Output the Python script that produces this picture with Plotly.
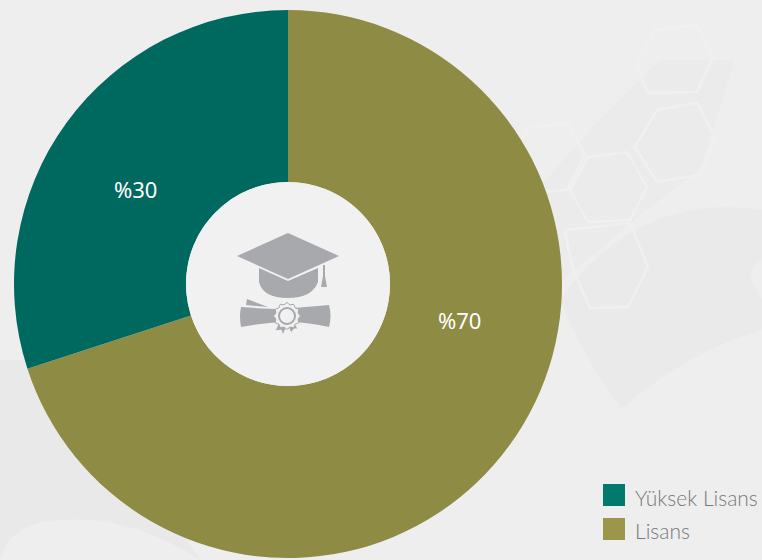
import math
import plotly.graph_objects as go

W, H = 762, 560
categories = ["Lisans", "Yüksek Lisans"]
values = [70, 30]
labels = ["%70", "%30"]
colors = ["#8e8b44", "#00695f"]
legend_colors = ["#9b9649", "#007a6c"]

def X(p): return p / W
def Y(p): return 1 - p / H

def svg(*segs, close=True):
    out = []
    for s in segs:
        nums = s[1:]
        pairs = [f"{X(nums[i]):.5f},{Y(nums[i+1]):.5f}" for i in range(0, len(nums), 2)]
        out.append(s[0] + " ".join(pairs))
    return " ".join(out) + (" Z" if close else "")

def pts(points, close=True):
    return svg(("M", *points[0]), *[("L", *p) for p in points[1:]], close=close)

cx, cy, R, r = 288, 284, 274, 102
fig = go.Figure(go.Pie(
    labels=categories, values=values, sort=False, direction="clockwise", rotation=0,
    hole=r / R, marker=dict(colors=colors, line=dict(width=0)),
    textinfo="none", hoverinfo="label+percent", showlegend=False,
    domain=dict(x=[X(cx - R), X(cx + R)], y=[Y(cy + R), Y(cy - R)]),
))

icon = "#a7a9ac"
disc = "#f1f1f2"
shapes = []
base = dict(xref="paper", yref="paper")

def bg_fill(path, color):
    shapes.append(dict(type="path", path=path, fillcolor=color, line_width=0, layer="below", **base))

# faint photographic backdrop
bg_fill(pts([(590, 130), (660, 60), (735, 60), (700, 170), (640, 215), (540, 300), (500, 300), (510, 220)]), "#ebebeb")
bg_fill(svg(("M", 560, 300), ("Q", 590, 370, 622, 408), ("Q", 690, 350, 762, 330),
            ("L", 762, 300), ("Q", 740, 270, 762, 260), ("L", 762, 210), ("Q", 640, 190, 560, 300)), "#eaeaea")
bg_fill(svg(("M", 622, 408), ("Q", 560, 440, 560, 510), ("L", 560, 560), ("L", 762, 560), ("Q", 690, 470, 622, 408)), "#eeeeee")
bg_fill(svg(("M", 0, 360), ("L", 30, 360), ("Q", 70, 480, 180, 530), ("L", 200, 560), ("L", 0, 560)), "#e9e9e9")
bg_fill(svg(("M", 0, 560), ("Q", 10, 520, 65, 520), ("Q", 130, 515, 200, 560)), "#eeeeee")

hexagons = [
    [(636, 65), (655, 30), (697, 25), (713, 57), (697, 92), (648, 93)],
    [(635, 147), (657, 110), (697, 103), (715, 137), (700, 175), (657, 182)],
    [(527, 128), (568, 123), (585, 155), (567, 190), (525, 193), (513, 163)],
    [(588, 157), (627, 152), (647, 187), (630, 220), (588, 222), (570, 190)],
    [(565, 230), (630, 223), (648, 267), (628, 307), (590, 308), (573, 270)],
]
for h in hexagons:
    shapes.append(dict(type="path", path=pts(h), line=dict(color="#f0f0f0", width=2.5),
                       fillcolor="rgba(0,0,0,0)", layer="below", **base))

def above(path, fill=icon, line=None):
    shapes.append(dict(type="path", path=path, fillcolor=fill, layer="above",
                       line=line or dict(width=0), **base))

def circle(x, y, rad, fill, line=None):
    shapes.append(dict(type="circle", x0=X(x - rad), x1=X(x + rad), y0=Y(y + rad), y1=Y(y - rad),
                       fillcolor=fill, layer="above", line=line or dict(width=0), **base))

circle(cx, cy, r, disc)
# mortarboard
above(pts([(288, 233), (339, 256), (288, 279), (237, 256)]))
above(svg(("M", 259, 268), ("L", 288, 281), ("L", 318, 268), ("L", 318, 282),
          ("Q", 312, 298, 288, 298), ("Q", 263, 298, 259, 282)))
above(pts([(323, 265), (325, 265), (325, 276), (327, 287), (321, 287), (323, 276)]))
# scroll
above(svg(("M", 241, 307), ("Q", 265, 309, 282, 309), ("L", 329, 305), ("Q", 332, 316, 329, 327),
          ("Q", 305, 322, 290, 322), ("Q", 265, 322, 241, 327), ("Q", 239, 316, 241, 307)))
above(pts([(247, 299), (268, 307), (246, 305)]))
# ribbons and seal
above(pts([(279, 322), (275, 331), (281, 330), (283, 335), (287, 326)]), line=dict(color=disc, width=1))
above(pts([(288, 326), (291, 333), (294, 329), (298, 329), (294, 322)]), line=dict(color=disc, width=1))
seal_n = 24
seal = [(287 + (13.5 if i % 2 == 0 else 11.5) * math.cos(i * math.pi / (seal_n / 2)),
         316 + (13.5 if i % 2 == 0 else 11.5) * math.sin(i * math.pi / (seal_n / 2))) for i in range(seal_n)]
above(pts(seal), fill=disc, line=dict(color=icon, width=1))
circle(287, 316, 8, disc, dict(color=icon, width=2))

# legend swatches
for y0, c in zip((518, 484), legend_colors):
    shapes.append(dict(type="rect", x0=X(603), x1=X(625), y0=Y(y0 + 22), y1=Y(y0),
                       fillcolor=c, line_width=0, **base))

value_font = dict(color="white", size=22, family="Noto Sans")
legend_font = dict(color="#77797c", size=21, family="Lato", weight=300)
annotations = [
    dict(x=X(459), y=Y(320), text=labels[0], xanchor="center", yanchor="middle", font=value_font),
    dict(x=X(135), y=Y(189), text=labels[1], xanchor="center", yanchor="middle", font=value_font),
    dict(x=X(635), y=Y(530), text=categories[0], xanchor="left", yanchor="middle", font=legend_font, xshift=-2),
    dict(x=X(635), y=Y(497), text=categories[1], xanchor="left", yanchor="middle", font=legend_font, xshift=-2),
]
for a in annotations:
    a.update(xref="paper", yref="paper", showarrow=False)

fig.update_layout(width=W, height=H, margin=dict(l=0, r=0, t=0, b=0), autosize=False,
                  paper_bgcolor="#eeeeee", plot_bgcolor="#eeeeee",
                  shapes=shapes, annotations=annotations)
fig.write_html("out.html", config=dict(displayModeBar=False),
               post_script="document.body.style.margin='0';document.body.style.background='#eeeeee';document.body.style.overflow='hidden';")
